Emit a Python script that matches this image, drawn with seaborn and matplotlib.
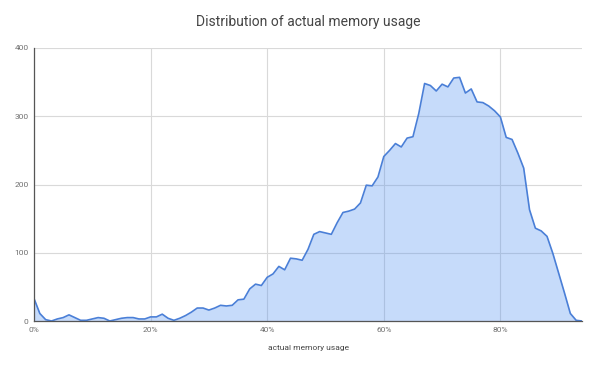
import seaborn as sns
import matplotlib.pyplot as plt
import pandas as pd
from matplotlib.ticker import FuncFormatter

# memory usage bucket (percent) and number of machines in it
usage_pct = list(range(0, 95))
counts = [
    33, 11, 2, 0, 3, 5, 9, 5, 1, 1,
    3, 5, 4, 0, 2, 4, 5, 5, 3, 3,
    6, 6, 10, 4, 1, 4, 8, 13, 19, 19,
    16, 19, 23, 22, 23, 31, 32, 47, 54, 52,
    64, 69, 80, 75, 92, 91, 89, 105, 127, 131,
    129, 127, 144, 159, 161, 164, 173, 199, 198, 211,
    241, 250, 260, 255, 268, 270, 304, 348, 345, 337,
    347, 343, 356, 357, 334, 340, 321, 320, 315, 308,
    299, 269, 266, 246, 224, 163, 136, 132, 124, 99,
    70, 41, 11, 1, 0,
]
y_ticks = [0, 100, 200, 300, 400]
x_ticks = [0, 20, 40, 60, 80]

df = pd.DataFrame({'usage': usage_pct, 'count': counts})

sns.set_style("white")
plt.rcParams['font.family'] = ['Roboto', 'DejaVu Sans']

fig = plt.figure(figsize=(6, 3.71), dpi=100)
ax = fig.add_axes([34 / 600, 1 - 321 / 371, (582 - 34) / 600, (321 - 48) / 371])

ax.grid(True, color='#d9d9d9', linewidth=0.8)
ax.set_axisbelow(True)
ax.fill_between(df['usage'], df['count'], color='#4f8ff0', alpha=0.32, linewidth=0, zorder=2)
sns.lineplot(data=df, x='usage', y='count', color='#4a7fd7', linewidth=1.2, ax=ax, zorder=3)

ax.set_xlim(0, 94)
ax.set_ylim(0, 400)
ax.set_xticks(x_ticks)
ax.set_yticks(y_ticks)
ax.xaxis.set_major_formatter(FuncFormatter(lambda v, _: f"{int(v)}%"))
ax.tick_params(length=0, labelsize=6, labelcolor='#707070', pad=4)

for side in ['top', 'right']:
    ax.spines[side].set_visible(False)
for side in ['left', 'bottom']:
    ax.spines[side].set_color('#555555')
    ax.spines[side].set_linewidth(0.9)
    ax.spines[side].set_zorder(4)

ax.set_xlabel('actual memory usage', fontsize=6, color='#444444', labelpad=9)
ax.set_ylabel('')
fig.suptitle('Distribution of actual memory usage', y=1 - 22 / 371, va='center',
             fontsize=10, color='#444444', x=(34 + 582) / 1200)

fig.savefig('out.png', dpi=100)
plt.close(fig)
